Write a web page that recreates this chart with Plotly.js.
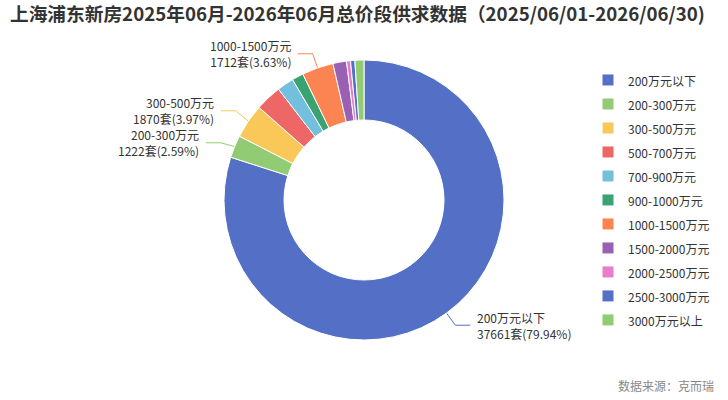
<!DOCTYPE html>
<html>
<head>
<meta charset="utf-8">
<script src="https://cdn.plot.ly/plotly-3.0.1.min.js"></script>
<style>
html,body{margin:0;padding:0;background:#fff;}
#chart{width:728px;height:400px;}
</style>
</head>
<body>
<div id="chart"></div>
<script>
// ---- data ----
var categories = ['200万元以下','200-300万元','300-500万元','500-700万元','700-900万元','900-1000万元','1000-1500万元','1500-2000万元','2000-2500万元','2500-3000万元','3000万元以上'];
var counts = [37661, 1222, 1870, 1433, 910, 627, 1712, 735, 217, 235, 490];
var showLabel = [true, true, true, false, false, false, true, false, false, false, false];
var colors = ['#5470c6','#91cc75','#fac858','#ee6666','#73c0de','#3ba272','#fc8452','#9a60b4','#ea7ccc','#5470c6','#91cc75'];
var unit = '套';
var titleText = '上海浦东新房2025年06月-2026年06月总价段供求数据（2025/06/01-2026/06/30)';
var sourceText = '数据来源：克而瑞';

// ---- geometry (style) ----
var W = 728, H = 400;
var cx = 364, cy = 200, R = 140, Rin = 80;
var len1 = 15, len2 = 15, textGap = 5, labelH = 32;
var FONT = '"Noto Sans CJK SC", "Noto Sans", sans-serif';

var total = counts.reduce(function(a,b){return a+b;}, 0);

var pie = {
  type: 'pie',
  labels: categories.map(function(c){ return '<span style="font-size:12px">' + c + '</span>'; }),
  values: counts,
  sort: false,
  direction: 'clockwise',
  rotation: 0,
  hole: Rin / R,
  marker: {colors: colors, line: {color: '#ffffff', width: 1}},
  textinfo: 'none',
  hoverinfo: 'none',
  domain: {x: [(cx - R) / W, (cx + R) / W], y: [(H - cy - R) / H, (H - cy + R) / H]}
};

// compute label anchors from the data
var labels = [];
var cum = 0;
counts.forEach(function(v, i){
  var mid = (cum + v / 2) / total * 2 * Math.PI;
  cum += v;
  if(!showLabel[i]) return;
  var s = Math.sin(mid), c = Math.cos(mid);
  labels.push({
    i: i, v: v, dir: s >= 0 ? 1 : -1,
    x0: cx + R * s, y0: cy - R * c,
    x1: cx + (R + len1) * s, y1: cy - (R + len1) * c
  });
});

// simple vertical overlap avoidance per side
[-1, 1].forEach(function(side){
  var grp = labels.filter(function(l){ return l.dir === side; })
                  .sort(function(a, b){ return a.y1 - b.y1; });
  for(var k = 1; k < grp.length; k++){
    var gap = grp[k].y1 - grp[k-1].y1;
    if(gap < labelH){
      var d = (labelH - gap) / 2;
      grp[k-1].y1 -= d;
      grp[k].y1 += d;
    }
  }
});

var traces = [pie];
var annotations = [];
labels.forEach(function(l){
  var i = l.i;
  var x2 = l.x1 + l.dir * len2, y2 = l.y1;
  traces.push({
    type: 'scatter', mode: 'lines', x: [l.x0, l.x1, x2], y: [l.y0, l.y1, y2],
    line: {color: colors[i], width: 1}, hoverinfo: 'skip', showlegend: false,
    xaxis: 'x', yaxis: 'y'
  });
  var pct = (l.v / total * 100).toFixed(2);
  annotations.push({
    xref: 'x', yref: 'y', x: x2 + l.dir * textGap, y: y2,
    xanchor: l.dir > 0 ? 'left' : 'right', yanchor: 'middle',
    align: l.dir > 0 ? 'left' : 'right',
    text: categories[i] + '<br>' + l.v + unit + '(' + pct + '%)', showarrow: false,
    font: {family: FONT, size: 12, color: '#333333'}
  });
});

annotations.push({
  xref: 'paper', yref: 'paper', x: 716 / W, y: 1 - 385 / H,
  xanchor: 'right', yanchor: 'middle', showarrow: false,
  text: sourceText, font: {family: FONT, size: 12, color: '#888888'}
});

var layout = {
  width: W, height: H,
  margin: {l: 0, r: 0, t: 0, b: 0},
  paper_bgcolor: '#ffffff', plot_bgcolor: 'rgba(0,0,0,0)',
  title: {
    text: titleText, x: 10 / W, xanchor: 'left', y: 1 - 14 / H, yanchor: 'middle',
    font: {family: FONT, size: 18.7, color: '#333333', weight: 'bold'}
  },
  xaxis: {range: [0, W], visible: false, fixedrange: true, domain: [0, 1]},
  yaxis: {range: [H, 0], visible: false, fixedrange: true, domain: [0, 1]},
  showlegend: true,
  legend: {
    x: 588 / W, y: 1 - 63 / H, xanchor: 'left', yanchor: 'top',
    font: {family: FONT, size: 16.15, color: '#333333'},
    bgcolor: 'rgba(0,0,0,0)', borderwidth: 0, traceorder: 'normal'
  },
  annotations: annotations
};

Plotly.newPlot('chart', traces, layout, {displayModeBar: false, staticPlot: true});
</script>
</body>
</html>
